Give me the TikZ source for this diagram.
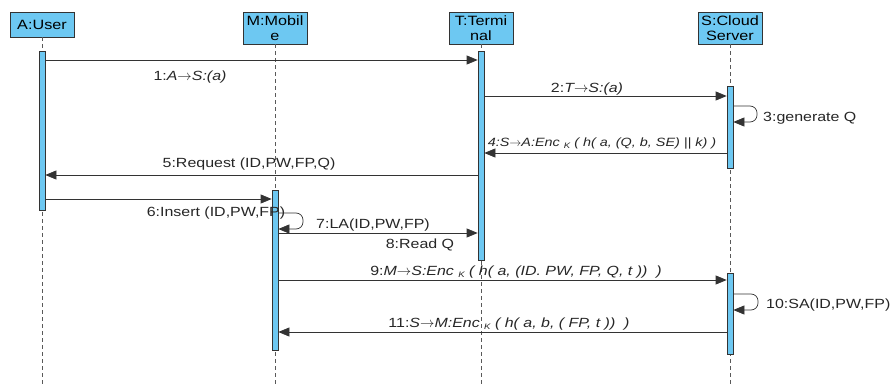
\documentclass[tikz,border=0pt]{standalone}
\usepackage{fontspec}
\setmainfont{Liberation Sans}[FakeStretch=1.2]
\usetikzlibrary{arrows.meta}
\definecolor{boxblue}{HTML}{6DC8F2}
\definecolor{edge}{HTML}{333333}
\newcommand{\encsub}[1]{\raisebox{-2.5pt}{\fontsize{8}{8}\selectfont #1}}
\newcommand{\rarr}{\ensuremath{\rightarrow}}
\begin{document}
\begin{tikzpicture}[x=1pt,y=-1pt,
  head/.style={draw=edge, fill=boxblue, minimum width=64pt, inner sep=0pt, align=center,
    font=\fontsize{13.5}{15}\selectfont, line width=0.8pt},
  bar/.style={draw=edge, fill=boxblue, minimum width=6pt, inner sep=0pt, line width=0.7pt},
  life/.style={draw=black!65, dash pattern=on 4pt off 3pt, line width=0.8pt},
  msg/.style={draw=edge, line width=0.7pt, -{Triangle[length=11pt,width=9pt]}},
  loopmsg/.style={msg, rounded corners=7pt},
  lbl/.style={font=\fontsize{13.3}{14}\selectfont, text=black!85, inner sep=0pt}]

\useasboundingbox (0,0) rectangle (893,385);

% headers
\node[head, minimum height=25pt] (A) at (42,24.5) {A:User};
\node[head, minimum height=32pt] (M) at (275,28) {M:Mobil\\e};
\node[head, minimum height=32pt] (T) at (481,28) {T:Termi\\nal};
\node[head, minimum height=32pt] (S) at (730,28) {S:Cloud\\Server};

% lifelines
\coordinate (Aend) at (42,385);
\coordinate (Mend) at (275,385);
\coordinate (Tend) at (481,385);
\coordinate (Send) at (730,385);
\draw[life] (A.south) -- (Aend);
\draw[life] (M.south) -- (Mend);
\draw[life] (T.south) -- (Tend);
\draw[life] (S.south) -- (Send);

% activation bars
\node[bar, minimum height=159pt] (Ab) at (42,130.5) {};
\node[bar, minimum height=209pt] (Tb) at (481,155.5) {};
\node[bar, minimum height=82pt] (Sb1) at (730,127) {};
\node[bar, minimum height=160pt] (Mb) at (275,270) {};
\node[bar, minimum height=81pt] (Sb2) at (730,313.5) {};

% 1
\draw[msg] (Ab.east |- 0,60) -- (Tb.west |- 0,60);
\node[lbl] (l1) at (190,77) {1:\textit{A\rarr S:(a)}};
% 2
\draw[msg] (Tb.east |- 0,96) -- (Sb1.west |- 0,96);
\node[lbl] (l2) at (587,89) {2:\textit{T\rarr S:(a)}};
% 3
\draw[loopmsg] (Sb1.east |- 0,106) -| (757,122) -- (Sb1.east |- 0,122);
\node[lbl, anchor=west] (l3) at (763,118) {3:generate Q};
% 4
\draw[msg] (Sb1.west |- 0,153) -- (Tb.east |- 0,153);
\node[lbl, font=\fontsize{12}{13}\selectfont] (l4) at (602,143) {\textit{4:S\rarr A:Enc \encsub{K} ( h( a, (Q, b, SE) || k) )}};
% 5
\draw[msg] (Tb.west |- 0,175) -- (Ab.east |- 0,175);
\node[lbl] (l5) at (249,164) {5:Request (ID,PW,FP,Q)};
% 6
\draw[msg] (Ab.east |- 0,199) -- (Mb.west |- 0,199);
\node[lbl] (l6) at (216,213) {6:Insert (ID,PW,FP)};
% 7
\draw[loopmsg] (Mb.east |- 0,213) -| (303,229) -- (Mb.east |- 0,229);
\node[lbl] (l7) at (373,225) {7:LA(ID,PW,FP)};
% 8
\draw[msg] (Mb.east |- 0,233) -- (Tb.west |- 0,233);
\node[lbl] (l8) at (420,245) {8:Read Q};
% 9
\draw[msg] (Mb.east |- 0,280) -- (Sb2.west |- 0,280);
\node[lbl] (l9) at (516,272) {9:\textit{M\rarr S:Enc \encsub{K} ( h( a, (ID. PW, FP, Q, t ))~~)}};
% 10
\draw[loopmsg] (Sb2.east |- 0,294) -| (758,310) -- (Sb2.east |- 0,310);
\node[lbl, anchor=west] (l10) at (766,305) {10:SA(ID,PW,FP)};
% 11
\draw[msg] (Sb2.west |- 0,332) -- (Mb.east |- 0,332);
\node[lbl] (l11) at (509,324) {11:\textit{S\rarr M:Enc \encsub{K} ( h( a, b, ( FP, t ))~~)}};
\end{tikzpicture}
\end{document}
